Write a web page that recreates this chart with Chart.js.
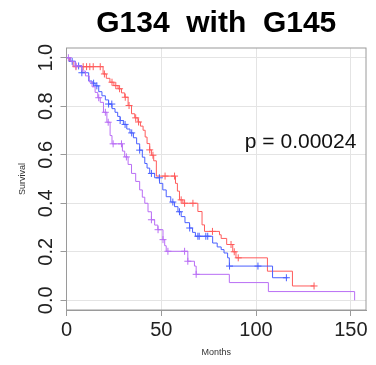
<!DOCTYPE html>
<html>
<head>
<meta charset="utf-8">
<script src="https://cdn.jsdelivr.net/npm/chart.js@4.4.0/dist/chart.umd.min.js"></script>
<style>
  html, body { margin: 0; padding: 0; background: #fff; }
  #wrap { width: 376px; height: 365px; }
</style>
</head>
<body>
<div id="wrap"><canvas id="km_chart" width="376" height="365"></canvas></div>
<script>
// KM curves: month of each drop, survival after the drop
var redTime = [0, 1.5, 3.5, 19.3, 21, 22.9, 25, 27.2, 29, 30.7, 32.5, 34.3, 36, 37.7, 39, 40.4, 41.5, 42.5, 43.9, 44.8, 46, 47.4, 57.5, 58.5, 59.6, 61.4, 69.3, 71.5, 72.8, 80.7, 81.6, 84.5, 87.7, 89.4, 106, 119.2]
var redSurv = [1, 0.985, 0.963, 0.933, 0.915, 0.899, 0.885, 0.872, 0.855, 0.837, 0.803, 0.769, 0.752, 0.735, 0.718, 0.701, 0.673, 0.646, 0.62, 0.598, 0.575, 0.512, 0.482, 0.45, 0.414, 0.4, 0.366, 0.311, 0.284, 0.27, 0.255, 0.23, 0.2, 0.175, 0.12, 0.059]
var redEnd = 130.6
var redCensor = [5, 8.8, 10.6, 12.3, 14.1, 17.8, 20, 24, 26, 28, 31, 33, 36.5, 38, 43.9, 45.6, 52, 57, 60.5, 62.3, 66.7, 77, 86.8, 88.5, 90.6, 130.6]

var blueTime = [0, 2, 4.6, 8.1, 11.7, 13.5, 15.1, 17, 18.7, 20.5, 22.2, 24, 25.6, 27, 28.3, 30, 31.8, 33.5, 35.3, 37, 38.6, 40, 41.3, 42.5, 43.9, 46.5, 49.1, 50.8, 52.6, 55, 57, 58.8, 60.5, 62.5, 64.9, 66.5, 68, 77.1, 79.5, 81.6, 83.1, 85, 85.9, 108.7]
var blueSurv = [1, 0.985, 0.966, 0.938, 0.904, 0.895, 0.884, 0.86, 0.843, 0.826, 0.809, 0.79, 0.775, 0.758, 0.741, 0.725, 0.706, 0.69, 0.67, 0.645, 0.619, 0.59, 0.564, 0.545, 0.523, 0.505, 0.482, 0.455, 0.427, 0.405, 0.386, 0.365, 0.345, 0.32, 0.298, 0.28, 0.264, 0.236, 0.22, 0.209, 0.195, 0.175, 0.141, 0.093]
var blueEnd = 116.6
var blueCensor = [3, 6.4, 8.1, 14.3, 16, 22.2, 23.9, 28.3, 30.9, 34.4, 38.6, 44.8, 49, 56.1, 59.6, 65, 69.3, 70, 73.5, 74.5, 86, 101, 116]

var purpleTime = [0, 2, 4.6, 8.1, 10, 12, 13.5, 15.1, 16.5, 17.8, 19.5, 21.3, 23, 24, 29.5, 30.7, 32.5, 34.3, 36.5, 38.6, 40, 41.3, 43, 44.8, 46.5, 48.2, 50.9, 51.8, 52.6, 64, 67.5, 68.4, 85.9, 106.5, 152]
var purpleSurv = [1, 0.985, 0.966, 0.945, 0.925, 0.9, 0.88, 0.857, 0.835, 0.816, 0.775, 0.734, 0.679, 0.645, 0.615, 0.591, 0.56, 0.523, 0.49, 0.455, 0.425, 0.4, 0.365, 0.332, 0.31, 0.291, 0.25, 0.225, 0.202, 0.161, 0.141, 0.107, 0.073, 0.036, 0]
var purpleEnd = 152
var purpleCensor = [1, 5, 17, 20.5, 22, 24.6, 29, 31.6, 44.8, 48.3, 50.9, 53.5, 62.3, 64, 68.4]

var xTicks = [0, 50, 100, 150]
var yTicks = [0, 0.2, 0.4, 0.6, 0.8, 1.0]
var pText = 'p = 0.00024'

var FONT = '"Liberation Sans", Arial, Helvetica, sans-serif'

const stepPoints = (time, surv, end) => {
  var pts = time.map((t, i) => ({ x: t, y: surv[i] }))
  if (end > time[time.length - 1]) pts.push({ x: end, y: surv[surv.length - 1] })
  return pts
}

// censor mark sits on the curve value at that month
const censorPoints = (cens, time, surv) => {
  return cens.map((c) => {
    var s = surv[0]
    for (var i = 0; i < time.length; i++) {
      if (time[i] <= c) s = surv[i]
    }
    return { x: c, y: s }
  })
}

var groups = [
  { time: purpleTime, surv: purpleSurv, end: purpleEnd, cens: purpleCensor, color: '#b96ef5' },
  { time: blueTime, surv: blueSurv, end: blueEnd, cens: blueCensor, color: '#4a60ff' },
  { time: redTime, surv: redSurv, end: redEnd, cens: redCensor, color: '#ff5c5c' },
]

var datasets = []
groups.map((g) => {
  datasets.push({
    data: stepPoints(g.time, g.surv, g.end),
    showLine: true,
    stepped: true,
    borderColor: g.color,
    borderWidth: 1,
    pointRadius: 0,
    fill: false,
  })
  datasets.push({
    data: censorPoints(g.cens, g.time, g.surv),
    showLine: false,
    pointStyle: 'cross',
    pointRadius: 3.5,
    borderColor: g.color,
    borderWidth: 1,
  })
})

// box, rotated y labels and p value
var extras = {
  id: 'extras',
  beforeDatasetsDraw: (chart) => {
    var a = chart.chartArea
    var ctx = chart.ctx
    ctx.save()
    ctx.strokeStyle = '#9a9a9a'
    ctx.lineWidth = 1
    ctx.strokeRect(a.left, a.top, a.right - a.left, a.bottom - a.top)
    ctx.restore()
  },
  afterDraw: (chart) => {
    var ctx = chart.ctx
    var ys = chart.scales.y
    var xs = chart.scales.x
    ctx.save()
    ctx.fillStyle = '#222'
    ctx.font = '20px ' + FONT
    ctx.textAlign = 'center'
    ctx.textBaseline = 'alphabetic'
    yTicks.map((v) => {
      ctx.save()
      ctx.translate(52, ys.getPixelForValue(v))
      ctx.rotate(-Math.PI / 2)
      ctx.fillText(v.toFixed(1), 0, 0)
      ctx.restore()
    })
    ctx.font = '21px ' + FONT
    ctx.textBaseline = 'middle'
    ctx.fillStyle = '#111'
    ctx.fillText(pText, xs.getPixelForValue(123.5), ys.getPixelForValue(0.65))
    ctx.restore()
  }
}

var kmCanvas = document.getElementById('km_chart').getContext('2d')
new Chart(kmCanvas, {
  type: 'scatter',
  data: { datasets: datasets },
  options: {
    responsive: false,
    animation: false,
    layout: { padding: { left: 0, right: 10, top: 0, bottom: 0 } },
    plugins: {
      legend: { display: false },
      tooltip: { enabled: false },
      title: {
        display: true,
        text: 'G134  with  G145',
        fullSize: false,
        color: '#000',
        font: { family: FONT, size: 30, weight: 'bold' },
        padding: { top: 6, bottom: 6 },
      },
    },
    scales: {
      x: {
        type: 'linear',
        min: 0,
        max: 158,
        afterBuildTicks: (s) => { s.ticks = xTicks.map((v) => ({ value: v })) },
        afterFit: (s) => { s.height = 55; s.paddingLeft = 0; s.paddingRight = 0 },
        grid: { color: '#e4e4e4', tickColor: '#9a9a9a', tickLength: 6 },
        border: { color: '#9a9a9a' },
        ticks: { color: '#222', padding: 2, font: { family: FONT, size: 20 }, callback: (v) => String(v) },
        title: { display: true, text: 'Months', color: '#333', font: { family: FONT, size: 9 }, padding: { top: 0, bottom: 7 } },
      },
      y: {
        type: 'linear',
        min: -0.04,
        max: 1.04,
        afterBuildTicks: (s) => { s.ticks = yTicks.map((v) => ({ value: v })) },
        afterFit: (s) => { s.width = 66.5; s.paddingTop = 0; s.paddingBottom = 0 },
        grid: { color: '#e4e4e4', tickColor: '#9a9a9a', tickLength: 6 },
        border: { color: '#9a9a9a' },
        ticks: { display: false },
        title: { display: true, text: 'Survival', color: '#333', font: { family: FONT, size: 9 }, padding: { top: 17, bottom: 0 } },
      },
    },
  },
  plugins: [extras],
})
</script>
</body>
</html>
